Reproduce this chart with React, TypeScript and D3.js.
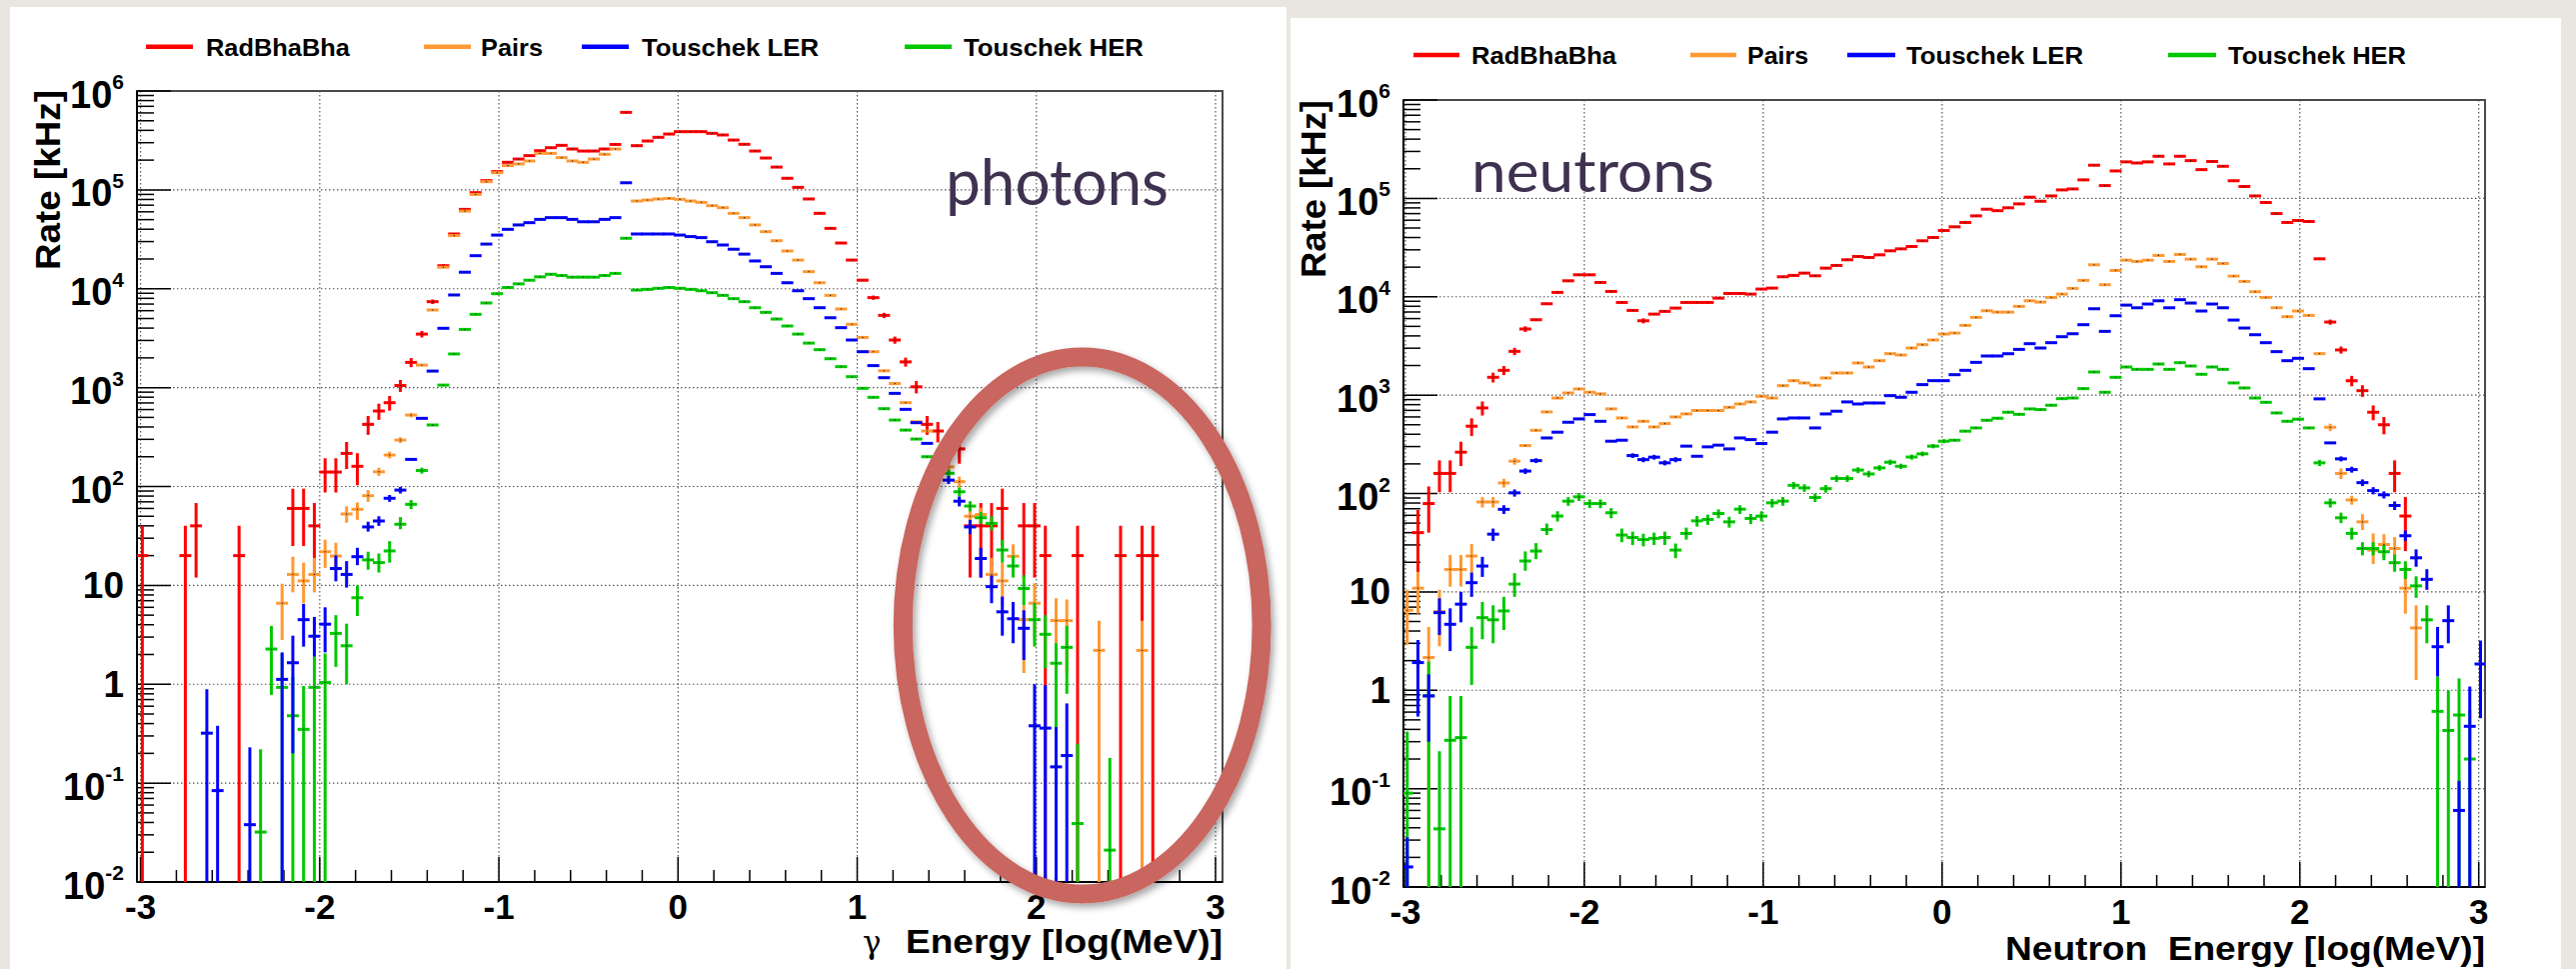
import React from "react";
import * as d3 from "d3";

// ---------- histogram binning (101 bins of 0.06 in log10(E/MeV)) ----------
const BIN_LOW = -3.02;
const BIN_WIDTH = 0.06;

// ---------- series ----------
const SERIES_NAMES = ["RadBhaBha", "Pairs", "Touschek LER", "Touschek HER"];
const SERIES_COLORS = ["#ff0000", "#ff9933", "#0000ff", "#00c800"];
const X_TICKS = [-3, -2, -1, 0, 1, 2, 3];
const Y_DECADES = [-2, -1, 0, 1, 2, 3, 4, 5, 6];

// each point: [bin, rate kHz] or [bin, rate, errLow, errHigh]
const photonRadBhaBha: number[][] = [
  [0, 20, 0, 40], [4, 20, 0, 40], [5, 40, 12, 68], [9, 20, 0, 40], [14, 60, 25, 95], [15, 60, 25, 95],
  [16, 40, 12, 68], [17, 140, 87, 193], [18, 140, 87, 193], [19, 216, 150, 282], [20, 160, 103, 217],
  [21, 425, 333, 517], [22, 580, 472, 688], [23, 704, 585, 823], [24, 1050, 905, 1195], [25, 1800, 1610, 1990],
  [26, 3480, 3215, 3745], [27, 7400, 7015, 7785], [28, 17100, 16500, 17700], [29, 35800], [30, 63500],
  [31, 93700], [32, 124000], [33, 153000], [34, 190000], [35, 205000], [36, 222000], [37, 249000],
  [38, 267000], [39, 282000], [40, 259000], [41, 247000], [42, 247000], [43, 259000], [44, 288000],
  [45, 608000], [46, 280000], [47, 312000], [48, 340000], [49, 367000], [50, 388000], [51, 388000],
  [52, 388000], [53, 373000], [54, 359000], [55, 319000], [56, 289000], [57, 247000], [58, 210000],
  [59, 170000], [60, 131000], [61, 106000], [62, 80900], [63, 57900], [64, 40800], [65, 29000],
  [66, 19500], [67, 12200], [68, 8130, 7730, 8530], [69, 5380, 5050, 5710], [70, 3030, 2780, 3280],
  [71, 1820, 1630, 2010], [72, 1020, 875, 1165], [73, 425, 333, 517], [74, 364, 279, 449],
  [76, 240, 170, 310], [77, 40, 12, 68], [78, 40, 12, 68], [79, 40, 12, 68], [80, 60, 25, 95],
  [82, 40, 12, 68], [83, 40, 12, 68], [84, 20, 0, 40], [87, 20, 0, 40], [91, 20, 0, 40],
  [93, 20, 0, 40], [94, 20, 0, 40],
];
const photonPairs: number[][] = [
  [13, 6.6, 2.8, 10.4], [14, 12.9, 8.5, 19.5], [15, 11.1, 6.6, 17], [16, 12.9, 8.5, 19], [17, 21.9, 15, 29],
  [18, 19.8, 15, 27], [19, 52.7, 43, 63], [20, 58.8, 46, 69], [21, 80.7, 70, 92], [22, 141, 128, 155],
  [23, 208, 192, 225], [24, 295, 275, 315], [25, 528, 500, 556], [26, 1690], [27, 6100], [28, 16500],
  [29, 34500], [30, 61000], [31, 90000], [32, 121000], [33, 149000], [34, 176000], [35, 183000],
  [36, 196000], [37, 234000], [38, 234000], [39, 212000], [40, 196000], [41, 190000], [42, 205000],
  [43, 229000], [44, 259000], [46, 77100], [47, 78900], [48, 80900], [49, 82000], [50, 80200],
  [51, 77100], [52, 74800], [53, 69200], [54, 66100], [55, 57900], [56, 52400], [57, 44200], [58, 37800],
  [59, 30600], [60, 24100], [61, 19500], [62, 14900], [63, 11500], [64, 8570], [65, 6240], [66, 4370],
  [67, 3220], [68, 2310], [69, 1480], [70, 1100], [71, 705], [72, 452], [73, 364], [75, 158, 140, 176],
  [76, 112, 98, 126], [77, 50, 43, 60], [78, 52, 44, 61], [79, 12.9, 8.5, 19], [80, 11.1, 6.3, 17],
  [81, 19.7, 15, 26], [82, 4.5, 1.3, 6.3], [83, 6.6, 2.8, 10.5], [85, 4.4, 1.3, 7.4], [86, 4.4, 1.3, 7.2],
  [89, 2.2, 0, 4.4], [93, 2.2, 0, 4.4],
];
const photonLER: number[][] = [
  [6, 0.32, 0, 0.89], [7, 0.084, 0, 0.38], [10, 0.038, 0, 0.23], [13, 1.12, 0, 2.1], [14, 1.65, 0.2, 3.1],
  [15, 4.5, 2.4, 6.5], [16, 3.06, 1.9, 4.8], [17, 4.05, 2.1, 6.0], [18, 14.8, 11, 20], [19, 12.9, 9.5, 17.6],
  [20, 19.5, 16, 24], [21, 39, 35, 44], [22, 44.8, 40, 50], [23, 76, 70, 82], [24, 92, 85, 99], [25, 188],
  [26, 489], [27, 1470], [28, 3980], [29, 8650], [30, 14700], [31, 21600], [32, 28300], [33, 34900],
  [34, 39900], [35, 44200], [36, 46600], [37, 50300], [38, 52400], [39, 52400], [40, 50300], [41, 47600],
  [42, 47600], [43, 50300], [44, 52400], [45, 118000], [46, 35800], [47, 35800], [48, 35800], [49, 35800],
  [50, 34900], [51, 33700], [52, 32900], [53, 29900], [54, 27700], [55, 25100], [56, 22400], [57, 19100],
  [58, 16700], [59, 14300], [60, 11500], [61, 9550], [62, 7940], [63, 6430], [64, 5090], [65, 4040],
  [66, 3030], [67, 2310], [68, 1670], [69, 1260], [70, 875], [71, 603], [72, 442], [73, 273],
  [75, 116, 106, 127], [76, 71, 63, 79], [77, 39, 33, 46], [78, 18.7, 12, 24], [79, 9.7, 6.6, 12.6],
  [80, 5.4, 3.1, 7.7], [81, 4.6, 2.6, 6.8], [82, 3.68, 1.76, 5.6], [83, 0.38, 0, 1.0], [84, 0.36, 0, 0.98],
  [85, 0.146, 0, 0.37], [86, 0.19, 0, 0.64],
];
const photonHER: number[][] = [
  [11, 0.032, 0, 0.22], [12, 2.27, 0.78, 3.9], [13, 0.93, 0, 2.05], [14, 0.48, 0, 1.19], [15, 0.35, 0, 0.96],
  [16, 0.93, 0, 1.9], [17, 1.04, 0, 2.05], [18, 3.27, 1.5, 5.0], [19, 2.45, 1.0, 4.1], [20, 7.5, 4.9, 10],
  [21, 18.1, 14.4, 21.9], [22, 17, 13.5, 21], [23, 22.3, 17, 28], [24, 41.5, 37, 49], [25, 66, 59, 73],
  [26, 145, 135, 155], [27, 419], [28, 1060], [29, 2190], [30, 3880], [31, 5510], [32, 7180], [33, 8910],
  [34, 10300], [35, 11200], [36, 12200], [37, 13200], [38, 14000], [39, 13600], [40, 13100], [41, 13100],
  [42, 13100], [43, 13600], [44, 14300], [45, 32400], [46, 9700], [47, 9860], [48, 10100], [49, 10300],
  [50, 10100], [51, 9860], [52, 9550], [53, 9120], [54, 8570], [55, 7940], [56, 7400], [57, 6430],
  [58, 5770], [59, 4940], [60, 4200], [61, 3480], [62, 2820], [63, 2420], [64, 1960], [65, 1630],
  [66, 1290], [67, 984], [68, 798], [69, 612], [70, 470], [71, 372], [72, 302], [73, 200],
  [75, 136, 124, 148], [76, 88.5, 79, 98], [77, 63.4, 56, 71], [78, 48.3, 42, 55], [79, 42.4, 36, 50],
  [80, 22.8, 17, 29], [81, 15.7, 12, 20], [82, 9.3, 6.3, 12.7], [83, 4.5, 2.4, 6.6], [84, 3.2, 1.45, 5.0],
  [85, 1.63, 0.35, 2.6], [86, 2.36, 0.8, 3.9], [87, 0.039, 0, 0.25], [90, 0.021, 0, 0.18],
];

const neutronRadBhaBha: number[][] = [
  [1, 40, 12, 68], [2, 79, 40, 118], [3, 160, 103, 217], [4, 160, 103, 217], [5, 263, 190, 336],
  [6, 483, 385, 581], [7, 741, 620, 862], [8, 1518, 1344, 1692], [9, 1786, 1597, 1975], [10, 2786, 2550, 3022],
  [11, 4700, 4393, 5007], [12, 5840], [13, 8490], [14, 11070], [15, 14530], [16, 16720], [17, 16720],
  [18, 13970], [19, 11320], [20, 8750], [21, 7260], [22, 5700, 5360, 6040], [23, 6660], [24, 7100], [25, 7670],
  [26, 8750], [27, 8750], [28, 8750], [29, 9680], [30, 10800], [31, 10800], [32, 10640], [33, 11970],
  [34, 12250], [35, 15960], [36, 16480], [37, 17380], [38, 16330], [39, 19540], [40, 20800], [41, 23760],
  [42, 25640], [43, 25060], [44, 26670], [45, 29310], [46, 30690], [47, 32430], [48, 37070], [49, 40000],
  [50, 47100], [51, 51400], [52, 56900], [53, 66400], [54, 77600], [55, 75000], [56, 80200], [57, 87900],
  [58, 102800], [59, 93500], [60, 105900], [61, 121900], [62, 124700], [63, 154200], [64, 217300],
  [65, 134900], [66, 190100], [67, 235000], [68, 229000], [69, 235000], [70, 268000], [71, 224000],
  [72, 268000], [73, 242000], [74, 196000], [75, 237000], [76, 212000], [77, 151000], [78, 132000],
  [79, 105900], [80, 90800], [81, 70100], [82, 56900], [83, 59600], [84, 58200], [85, 24300],
  [86, 5530, 5200, 5860], [87, 2880, 2640, 3120], [88, 1400, 1230, 1570], [89, 1110, 960, 1260],
  [90, 670, 555, 785], [91, 500, 400, 600], [92, 160, 103, 217], [93, 59, 26, 92],
];
const neutronPairs: number[][] = [
  [0, 6.5, 2.9, 10.5], [1, 10.9, 6.0, 16], [2, 2.15, 0, 4.4], [3, 6.3, 2.8, 10.5], [4, 16.9, 11.3, 23.7],
  [5, 16.9, 11.3, 23.7], [6, 23.1, 15.6, 30.7], [7, 82, 72, 92], [8, 82, 72, 92], [9, 128, 115, 141],
  [10, 213, 196, 230], [11, 307], [12, 439], [13, 675], [14, 935], [15, 1052], [16, 1155], [17, 1070],
  [18, 1029], [19, 724], [20, 586], [21, 475], [22, 542], [23, 475], [24, 514], [25, 600], [26, 644],
  [27, 697], [28, 697], [29, 697], [30, 752], [31, 813], [32, 853], [33, 973], [34, 935], [35, 1248],
  [36, 1403], [37, 1330], [38, 1259], [39, 1493], [40, 1679], [41, 1679], [42, 2122], [43, 1932],
  [44, 2239], [45, 2638], [46, 2557], [47, 3013], [48, 3258], [49, 3634], [50, 4178], [51, 4277],
  [52, 5115], [53, 6167], [54, 7210], [55, 6980], [56, 6980], [57, 7980], [58, 9100], [59, 8830],
  [60, 9840], [61, 10640], [62, 12160], [63, 14650], [64, 21130], [65, 13250], [66, 18500], [67, 23550],
  [68, 22860], [69, 23550], [70, 26300], [71, 22860], [72, 26920], [73, 24100], [74, 20180], [75, 24100],
  [76, 21780], [77, 16220], [78, 14320], [79, 11250], [80, 9840], [81, 7730], [82, 6270], [83, 7160],
  [84, 6460], [85, 2640], [86, 471, 430, 512], [87, 160, 140, 180], [88, 86, 77, 95], [89, 51.5, 42.5, 61.6],
  [90, 26.6, 19.2, 39.3], [91, 30.3, 22.7, 38.6], [92, 27.6, 21, 36], [93, 10.9, 6.0, 18.7], [94, 4.3, 1.27, 7.3],
];
const neutronLER: number[][] = [
  [0, 0.016, 0, 0.032], [1, 1.91, 0.54, 3.24], [2, 0.875, 0.3, 1.45], [3, 6.15, 3.65, 8.6], [4, 4.68, 2.5, 6.8],
  [5, 7.5, 4.9, 10], [6, 12.4, 8.9, 15.7], [7, 18.3, 14.2, 22.7], [8, 38.6, 33, 44], [9, 69, 62, 76],
  [10, 101.6, 93, 110], [11, 169, 158, 180], [12, 216, 204, 228], [13, 367], [14, 420], [15, 530], [16, 573],
  [17, 634], [18, 542], [19, 340], [20, 348], [21, 243, 230, 256], [22, 221, 208, 234], [23, 234, 221, 247],
  [24, 205, 193, 217], [25, 221, 208, 234], [26, 303], [27, 239], [28, 298], [29, 310], [30, 284], [31, 367],
  [32, 353], [33, 322], [34, 420], [35, 573], [36, 586], [37, 586], [38, 464], [39, 644], [40, 686],
  [41, 853], [42, 813], [43, 832], [44, 832], [45, 988], [46, 951], [47, 1069], [48, 1279], [49, 1403],
  [50, 1403], [51, 1614], [52, 1786], [53, 2153], [54, 2500], [55, 2500], [56, 2636], [57, 2917],
  [58, 3334], [59, 3013], [60, 3412], [61, 3926], [62, 4207], [63, 5200], [64, 7550], [65, 4446],
  [66, 6412], [67, 8222], [68, 7727], [69, 8433], [70, 9100], [71, 7727], [72, 9333], [73, 8630],
  [74, 7161], [75, 8433], [76, 7727], [77, 5794], [78, 4808], [79, 4111], [80, 3412], [81, 2767],
  [82, 2239], [83, 2366], [84, 1858], [85, 916], [86, 327], [87, 225, 212, 238], [88, 175, 163, 187],
  [89, 129, 119, 139], [90, 107, 98, 116], [91, 97, 89, 105], [92, 75.5, 68, 83], [93, 37.2, 33, 42],
  [94, 22.2, 18, 27], [95, 13.4, 10.5, 17], [96, 2.77, 1.38, 4.4], [97, 5.1, 3.0, 7.3], [98, 0.06, 0, 0.12],
  [99, 0.43, 0, 1.09], [100, 1.85, 0.52, 3.2],
];
const neutronHER: number[][] = [
  [0, 0.09, 0, 0.38], [2, 0.88, 0, 1.95], [3, 0.039, 0, 0.24], [4, 0.31, 0, 0.875], [5, 0.33, 0, 0.875],
  [6, 2.73, 1.13, 4.4], [7, 5.47, 3.3, 7.9], [8, 5.2, 3.0, 7.3], [9, 6.4, 4.1, 8.9], [10, 12, 8.9, 15.5],
  [11, 20.6, 16.4, 25.8], [12, 26, 21.5, 31.3], [13, 43, 37.8, 49.5], [14, 59, 52, 66], [15, 83.6, 75, 92],
  [16, 92.5, 84, 101], [17, 79, 71, 87], [18, 79, 71, 87], [19, 63.7, 56, 71], [20, 37.8, 32, 44],
  [21, 35.7, 30, 41], [22, 34, 29, 39], [23, 35, 30, 40], [24, 35.7, 30, 41], [25, 26.6, 22, 31],
  [26, 39.3, 34, 45], [27, 52.7, 46, 59], [28, 54.4, 48, 61], [29, 62.6, 56, 69], [30, 51.5, 45, 58],
  [31, 69.3, 62, 76], [32, 55.7, 49, 62], [33, 58.9, 52, 66], [34, 80.4, 72, 88], [35, 83.6, 75, 92],
  [36, 121, 111, 131], [37, 114, 104, 124], [38, 91, 82, 100], [39, 112, 102, 122], [40, 142, 131, 153],
  [41, 142, 131, 153], [42, 173, 161, 185], [43, 158, 146, 170], [44, 182, 170, 194], [45, 208, 195, 221],
  [46, 189, 177, 201], [47, 235, 221, 249], [48, 253, 239, 267], [49, 303, 288, 318], [50, 340, 324, 356],
  [51, 348], [52, 430], [53, 464], [54, 555], [55, 582], [56, 670], [57, 638], [58, 724], [59, 713],
  [60, 789], [61, 921], [62, 935], [63, 1164], [64, 1718], [65, 1069], [66, 1517], [67, 1932], [68, 1828],
  [69, 1828], [70, 2071], [71, 1828], [72, 2138], [73, 1977], [74, 1629], [75, 1932], [76, 1828],
  [77, 1330], [78, 1183], [79, 935], [80, 845], [81, 659], [82, 542], [83, 569], [84, 464],
  [85, 205, 190, 220], [86, 80.4, 72, 89], [87, 56.6, 50, 64], [88, 39.3, 34, 45], [89, 27.6, 23.5, 32],
  [90, 27.6, 23.5, 32], [91, 25.6, 21, 30], [92, 19.8, 16, 24], [93, 16.9, 13.5, 20.5], [94, 11.5, 8.7, 14.4],
  [95, 5.2, 3.0, 7.3], [96, 0.61, 0, 1.38], [97, 0.39, 0, 1.0], [98, 0.56, 0, 1.32], [99, 0.2, 0, 0.63],
];

// ---------- layout ----------
const W = 2577;
const H = 969;
const FONT = "'Liberation Sans', Arial, Helvetica, sans-serif";
const DRAW_ORDER = [0, 1, 3, 2];

interface PanelCfg {
  id: string;
  series: number[][][];
  bg: { x: number; y: number; w: number; h: number };
  frame: { l: number; r: number; t: number; b: number };
  xPix: [number, number];
  legendY: number;
  legendBase: number;
  legendLines: [number, number][];
  legendText: [number, number][];
  yTitle: { x: number; yEnd: number; len: number };
  xTitle: { x0: number; x1: number; base: number; text: string; gamma?: number };
  note: { text: string; x: number; base: number; len: number; size: number };
}

const PANELS: PanelCfg[] = [
  {
    id: "ph",
    series: [photonRadBhaBha, photonPairs, photonLER, photonHER],
    bg: { x: 10, y: 7, w: 1277, h: 962 },
    frame: { l: 137, r: 1223, t: 91, b: 882 },
    xPix: [140.6, 1216],
    legendY: 46.7,
    legendBase: 55.5,
    legendLines: [[146, 193], [424, 471], [582, 629], [905, 952]],
    legendText: [[206, 144], [481, 62], [642, 177], [964, 180]],
    yTitle: { x: 60, yEnd: 90, len: 180 },
    xTitle: { x0: 906, x1: 1223, base: 953, text: "Energy [log(MeV)]", gamma: 863 },
    note: { text: "photons", x: 946, base: 205, len: 223, size: 64 },
  },
  {
    id: "ne",
    series: [neutronRadBhaBha, neutronPairs, neutronLER, neutronHER],
    bg: { x: 1291, y: 18, w: 1271, h: 951 },
    frame: { l: 1404, r: 2486, t: 100, b: 887 },
    xPix: [1406, 2479.7],
    legendY: 55,
    legendBase: 64,
    legendLines: [[1414, 1460], [1691, 1737], [1848, 1896], [2169, 2217]],
    legendText: [[1472, 145], [1748, 61], [1907, 177], [2229, 178]],
    yTitle: { x: 1326, yEnd: 100, len: 178 },
    xTitle: { x0: 2006, x1: 2486, base: 960, text: "Neutron\u00a0\u00a0Energy [log(MeV)]" },
    note: { text: "neutrons", x: 1472, base: 191.5, len: 243, size: 58 },
  },
];

function Panel({ cfg }: { cfg: PanelCfg }) {
  const { frame } = cfg;
  const x = d3.scaleLinear().domain([-3, 3]).range(cfg.xPix);
  const y = d3.scaleLog().domain([1e-2, 1e6]).range([frame.b, frame.t]);
  const clipId = `clip-${cfg.id}`;
  const minorX = d3.range(-3, 3.001, 0.2).filter((v) => Math.abs(v - Math.round(v)) > 0.01);
  const minorY: number[] = [];
  Y_DECADES.slice(0, -1).forEach((e) => {
    d3.range(2, 10).forEach((m) => minorY.push(m * Math.pow(10, e)));
  });
  const labelRight = frame.l - 13;

  return (
    <g>
      <rect x={cfg.bg.x} y={cfg.bg.y} width={cfg.bg.w} height={cfg.bg.h} fill="#ffffff" />
      <defs>
        <clipPath id={clipId}>
          <rect x={frame.l} y={frame.t} width={frame.r - frame.l} height={frame.b - frame.t} />
        </clipPath>
      </defs>
      {/* grid */}
      <g stroke="#555" strokeWidth={1.2} strokeDasharray="1.5 2.5">
        {X_TICKS.map((t) => (
          <line key={`gx${t}`} x1={x(t)} x2={x(t)} y1={frame.t} y2={frame.b} />
        ))}
        {Y_DECADES.map((e) => (
          <line key={`gy${e}`} x1={frame.l} x2={frame.r} y1={y(Math.pow(10, e))} y2={y(Math.pow(10, e))} />
        ))}
      </g>
      {/* frame */}
      <rect x={frame.l} y={frame.t} width={frame.r - frame.l} height={frame.b - frame.t} fill="none" stroke="#4a4a4a" strokeWidth={2} />
      <line x1={frame.l} x2={frame.l} y1={frame.t} y2={frame.b} stroke="#000" strokeWidth={2} />
      <line x1={frame.l} x2={frame.r} y1={frame.b} y2={frame.b} stroke="#000" strokeWidth={2} />
      {/* ticks */}
      <g stroke="#000" strokeWidth={1.5}>
        {X_TICKS.map((t) => (
          <line key={`tx${t}`} x1={x(t)} x2={x(t)} y1={frame.b} y2={frame.b - 25} />
        ))}
        {minorX.map((t) => (
          <line key={`mx${t}`} x1={x(t)} x2={x(t)} y1={frame.b} y2={frame.b - 12} />
        ))}
        {Y_DECADES.map((e) => (
          <line key={`ty${e}`} x1={frame.l} x2={frame.l + 34} y1={y(Math.pow(10, e))} y2={y(Math.pow(10, e))} />
        ))}
        {minorY.map((v, i) => (
          <line key={`my${i}`} x1={frame.l} x2={frame.l + 17} y1={y(v)} y2={y(v)} />
        ))}
      </g>
      {/* tick labels */}
      <g fontFamily={FONT} fontWeight="bold" fill="#000">
        {X_TICKS.map((t) => (
          <text key={`lx${t}`} x={x(t)} y={frame.b + 37} fontSize={35} textAnchor="middle">
            {t < 0 ? `-${Math.abs(t)}` : `${t}`}
          </text>
        ))}
        {Y_DECADES.map((e) => {
          const yy = y(Math.pow(10, e));
          if (e === 0 || e === 1)
            return (
              <text key={`ly${e}`} x={labelRight} y={yy + 12.5} fontSize={37} textAnchor="end">
                {e === 0 ? "1" : "10"}
              </text>
            );
          return (
            <text key={`ly${e}`} x={labelRight} y={yy + 16.5} fontSize={38} textAnchor="end">
              <tspan>10</tspan>
              <tspan dy={-18.5} fontSize={21}>{`${e}`}</tspan>
            </text>
          );
        })}
      </g>
      {/* data */}
      <g clipPath={`url(#${clipId})`}>
        {DRAW_ORDER.map((si) => (
          <g key={`s${si}`} stroke={SERIES_COLORS[si]} strokeWidth={3} fill="none">
            {cfg.series[si].map((p) => {
              const [k, v, lo, hi] = p;
              const c = BIN_LOW + BIN_WIDTH * (k + 0.5);
              const xa = x(BIN_LOW + BIN_WIDTH * k) - 0.6;
              const xb = x(BIN_LOW + BIN_WIDTH * (k + 1)) + 0.6;
              const yv = y(v);
              const hasErr = p.length === 4;
              const yLo = hasErr ? (lo > 0 ? y(lo) : frame.b + 5) : yv;
              const yHi = hasErr ? y(hi) : yv;
              return (
                <g key={`p${k}`}>
                  {hasErr && <line x1={x(c)} x2={x(c)} y1={yLo} y2={yHi} />}
                  <line x1={xa} x2={xb} y1={yv} y2={yv} />
                  <rect x={x(c) - 0.6} y={yv - 0.6} width={1.2} height={1.2} fill="#222" stroke="none" />
                </g>
              );
            })}
          </g>
        ))}
      </g>
      {/* legend */}
      <g fontFamily={FONT} fontWeight="bold" fontSize={24.5} fill="#000">
        {SERIES_NAMES.map((n, i) => (
          <g key={`lg${i}`}>
            <line x1={cfg.legendLines[i][0]} x2={cfg.legendLines[i][1]} y1={cfg.legendY} y2={cfg.legendY} stroke={SERIES_COLORS[i]} strokeWidth={4.5} />
            <text x={cfg.legendText[i][0]} y={cfg.legendBase} textLength={cfg.legendText[i][1]} lengthAdjust="spacingAndGlyphs">
              {n}
            </text>
          </g>
        ))}
      </g>
      {/* axis titles */}
      <text
        transform={`translate(${cfg.yTitle.x},${cfg.yTitle.yEnd}) rotate(-90)`}
        textAnchor="end"
        fontFamily={FONT}
        fontWeight="bold"
        fontSize={35}
        textLength={cfg.yTitle.len}
        lengthAdjust="spacingAndGlyphs"
      >
        Rate [kHz]
      </text>
      {cfg.xTitle.gamma !== undefined && (
        <text x={cfg.xTitle.gamma} y={cfg.xTitle.base} fontFamily="'DejaVu Serif', serif" fontSize={31}>
          γ
        </text>
      )}
      <text
        x={cfg.xTitle.x0}
        y={cfg.xTitle.base}
        fontFamily={FONT}
        fontWeight="bold"
        fontSize={34}
        textLength={cfg.xTitle.x1 - cfg.xTitle.x0}
        lengthAdjust="spacingAndGlyphs"
      >
        {cfg.xTitle.text}
      </text>
      <text
        x={cfg.note.x}
        y={cfg.note.base}
        fontFamily="Lato, 'Open Sans', sans-serif"
        fontSize={cfg.note.size}
        fill="#3f3251"
        textLength={cfg.note.len}
        lengthAdjust="spacingAndGlyphs"
      >
        {cfg.note.text}
      </text>
    </g>
  );
}

export default function App() {
  return (
    <svg
      width={W}
      height={H}
      viewBox={`0 0 ${W} ${H}`}
      style={{ position: "absolute", left: 0, top: 0, display: "block" }}
    >
      <defs>
        <filter id="ellShadow" x="-20%" y="-20%" width="140%" height="140%">
          <feDropShadow dx={3} dy={4} stdDeviation={3.5} floodColor="#000" floodOpacity={0.35} />
        </filter>
      </defs>
      <rect x={0} y={0} width={W} height={H} fill="#e9e6e0" />
      {PANELS.map((p) => (
        <Panel key={p.id} cfg={p} />
      ))}
      <ellipse cx={1082.7} cy={625.5} rx={179.4} ry={268.5} fill="none" stroke="#c9665f" strokeWidth={19} filter="url(#ellShadow)" />
    </svg>
  );
}
